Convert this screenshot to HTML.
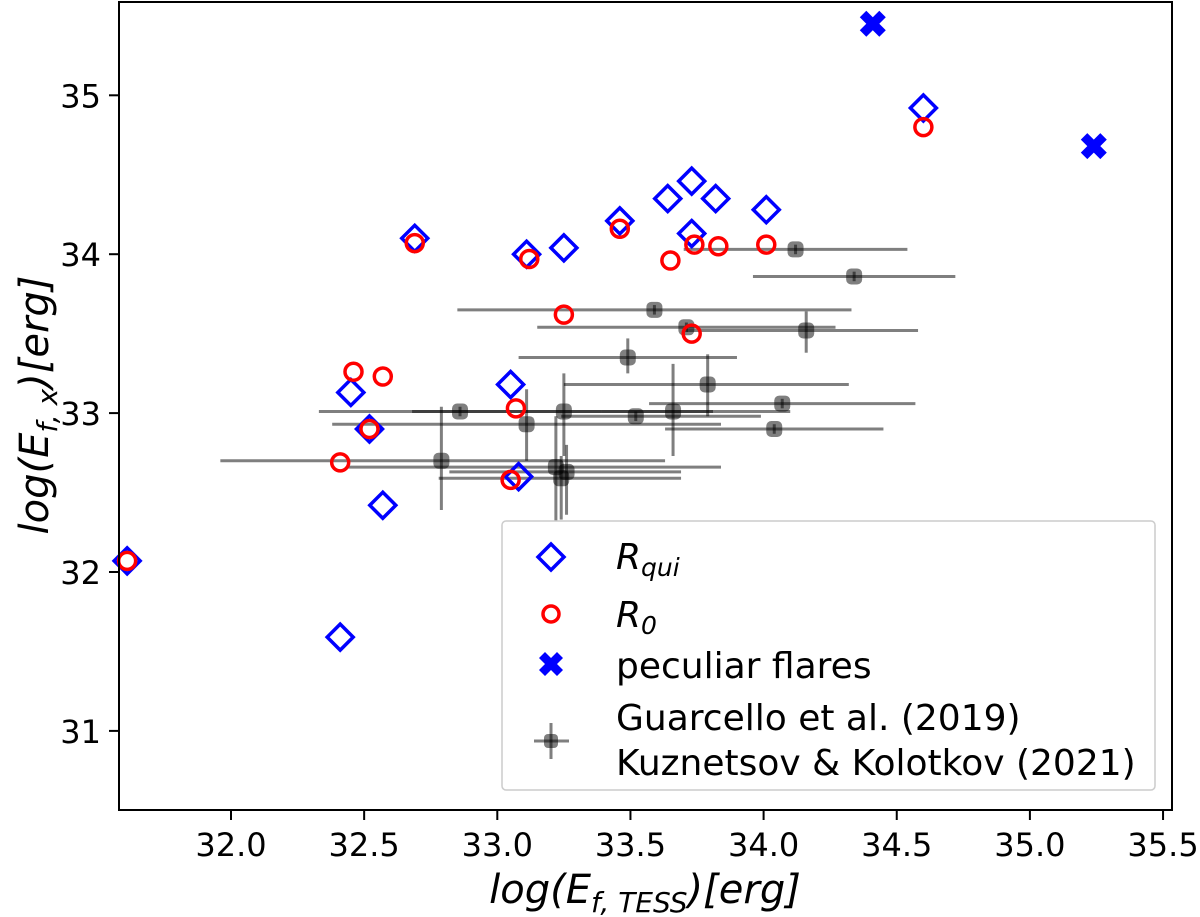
<!DOCTYPE html>
<html><head><meta charset="utf-8"><style>
html,body{margin:0;padding:0;background:#fff;}
svg{display:block;font-family:"DejaVu Sans","Liberation Sans",sans-serif;}
</style></head><body>
<svg id="chart" width="1200" height="917" viewBox="0 0 1200 917">
<g id="errs"></g>
<g id="marks"></g>
<rect x="119" y="2" width="1053" height="808" fill="none" stroke="#000" stroke-width="2"/>
<g id="axes"></g>
<text x="645" y="903" text-anchor="middle" font-size="40" font-style="italic">log(E<tspan font-size="28" dy="9">f, TESS</tspan><tspan dy="-9">)[erg]</tspan></text>
<text transform="translate(48,405) rotate(-90)" text-anchor="middle" font-size="40" font-style="italic">log(E<tspan font-size="28" dy="9">f, x</tspan><tspan dy="-9">)[erg]</tspan></text>
<g>
<rect x="502" y="521" width="653" height="269" rx="4" fill="#fff" stroke="#ccc" stroke-width="1.5"/>
<g>
<path d="M551 544 L564 557 L551 570 L538 557 Z" fill="none" stroke="#0000ff" stroke-width="3.5"/>
<text x="616" y="569" font-size="36" font-style="italic">R<tspan font-size="25" dy="7">qui</tspan></text></g>
<g>
<circle cx="551" cy="614" r="8" fill="none" stroke="#ff0000" stroke-width="3.5"/>
<text x="616" y="627" font-size="36" font-style="italic">R<tspan font-size="25" dy="7">0</tspan></text></g>
<g>
<path id="legx" d="" fill="#0000ff"/>
<text x="616" y="678" font-size="36">peculiar flares</text></g>
<g>
<line x1="534" y1="741" x2="569" y2="741" stroke="rgba(0,0,0,0.5)" stroke-width="3"/>
<line x1="551" y1="723" x2="551" y2="759" stroke="rgba(0,0,0,0.5)" stroke-width="3"/>
<rect x="544" y="734" width="14" height="14" rx="4" fill="rgba(0,0,0,0.5)"/>
<text x="616" y="730" font-size="36">Guarcello et al. (2019)</text>
<text x="616" y="775" font-size="36">Kuznetsov &amp; Kolotkov (2021)</text></g>
</g>
</svg>
<script>
const xTicks=[32.0,32.5,33.0,33.5,34.0,34.5,35.0,35.5];
const yTicks=[31,32,33,34,35];
const quiX=[31.61,32.41,32.57,32.52,32.45,32.69,33.11,33.25,33.05,33.08,33.46,33.64,33.73,33.73,33.82,34.01,34.60];
const quiY=[32.07,31.59,32.42,32.90,33.13,34.10,34.00,34.04,33.18,32.60,34.21,34.35,34.46,34.13,34.35,34.28,34.92];
const r0X=[31.61,32.41,32.52,32.46,32.57,32.69,33.12,33.25,33.07,33.05,33.46,33.65,33.74,33.73,33.83,34.01,34.60];
const r0Y=[32.07,32.69,32.90,33.26,33.23,34.07,33.97,33.62,33.03,32.58,34.16,33.96,34.06,33.50,34.05,34.06,34.80];
const pecX=[34.41,35.24];
const pecY=[35.45,34.68];
const litX=[34.12,34.34,33.59,33.71,34.16,33.49,33.79,34.07,32.86,33.25,33.52,33.66,34.04,33.11,32.79,33.22,33.26,33.24];
const litY=[34.03,33.86,33.65,33.54,33.52,33.35,33.18,33.06,33.01,33.01,32.98,33.01,32.90,32.93,32.70,32.66,32.63,32.59];
const litXlo=[33.70,33.96,32.85,33.15,33.71,33.08,33.25,33.57,32.68,32.33,33.24,33.39,33.63,32.38,31.96,32.44,32.82,32.78];
const litXhi=[34.54,34.72,34.33,34.27,34.58,33.90,34.32,34.57,33.39,34.10,33.99,33.81,34.45,33.84,33.63,33.84,33.69,33.69];
const litYlo=[34.00,33.83,33.62,33.51,33.38,33.25,32.98,33.03,32.98,32.73,32.95,32.73,32.87,32.70,32.39,32.31,32.36,32.33];
const litYhi=[34.06,33.89,33.68,33.57,33.64,33.47,33.37,33.09,33.04,33.25,33.01,33.31,32.93,33.15,33.04,32.98,32.80,32.73];

const NS='http://www.w3.org/2000/svg';
const X=v=>231+(v-32)*266.3;
const Y=v=>95.3+(35-v)*158.9;
function mk(tag,attrs,parent){const e=document.createElementNS(NS,tag);for(const k in attrs)e.setAttribute(k,attrs[k]);parent.appendChild(e);return e;}
function xPath(cx,cy,s){const a=s*0.5,b=s;return `M${cx-b+a} ${cy-b} L${cx} ${cy-a} L${cx+b-a} ${cy-b} L${cx+b} ${cy-b+a} L${cx+a} ${cy} L${cx+b} ${cy+b-a} L${cx+b-a} ${cy+b} L${cx} ${cy+a} L${cx-b+a} ${cy+b} L${cx-b} ${cy+b-a} L${cx-a} ${cy} L${cx-b} ${cy-b+a} Z`;}
document.getElementById('legx').setAttribute('d',xPath(551,664,12));

const axes=document.getElementById('axes');
xTicks.forEach(t=>{
  const l=mk('line',{x1:X(t),x2:X(t),y1:810,y2:820,stroke:'#000','stroke-width':2},axes);
  
  
  const tx=mk('text',{x:X(t),y:856,'text-anchor':'middle','font-size':32},axes);
  tx.textContent=t.toFixed(1);
  
  
});
yTicks.forEach(t=>{
  const l=mk('line',{x1:109,x2:119,y1:Y(t),y2:Y(t),stroke:'#000','stroke-width':2},axes);
  
  
  const tx=mk('text',{x:101,y:Y(t)+12,'text-anchor':'end','font-size':32},axes);
  tx.textContent=String(t);
  
  
});

const errs=document.getElementById('errs');
litX.forEach((v,i)=>{
  const g=mk('g',{},errs);
  
  
  mk('line',{x1:X(litXlo[i]),x2:X(litXhi[i]),y1:Y(litY[i]),y2:Y(litY[i]),stroke:'rgba(0,0,0,0.5)','stroke-width':3},g);
  mk('line',{x1:X(v),x2:X(v),y1:Y(litYlo[i]),y2:Y(litYhi[i]),stroke:'rgba(0,0,0,0.5)','stroke-width':3},g);
  mk('rect',{x:X(v)-8,y:Y(litY[i])-8,width:16,height:16,rx:5,fill:'rgba(0,0,0,0.5)'},g);
});

const marks=document.getElementById('marks');
quiX.forEach((v,i)=>{
  const cx=X(v),cy=Y(quiY[i]);
  const p=mk('path',{d:`M${cx} ${cy-13} L${cx+13} ${cy} L${cx} ${cy+13} L${cx-13} ${cy} Z`,fill:'none',stroke:'#0000ff','stroke-width':3.5},marks);
  
  
});
r0X.forEach((v,i)=>{
  const c=mk('circle',{cx:X(v),cy:Y(r0Y[i]),r:8.5,fill:'none',stroke:'#ff0000','stroke-width':3.5},marks);
  
  
});
pecX.forEach((v,i)=>{
  const p=mk('path',{d:xPath(X(v),Y(pecY[i]),13),fill:'#0000ff'},marks);
  
  
});
</script>
</body></html>
